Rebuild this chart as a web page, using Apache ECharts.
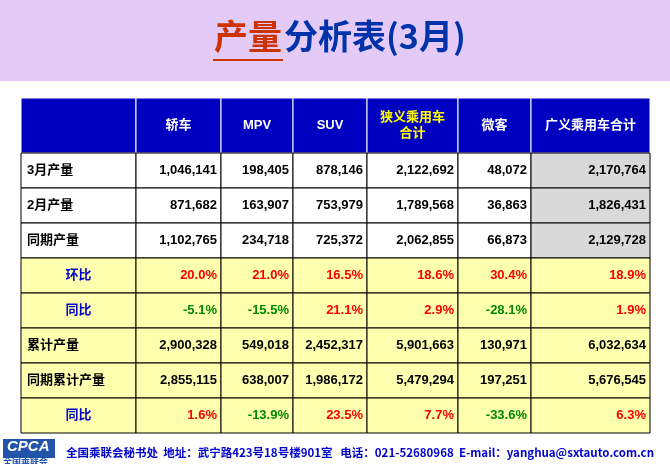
<!DOCTYPE html>
<html><head><meta charset="utf-8">
<script src="https://cdn.jsdelivr.net/npm/echarts@6/dist/echarts.min.js"></script>
<style>html,body{margin:0;padding:0;background:#fff}#main{width:670px;height:464px}</style>
</head><body><div id="main"></div>
<script>
var columns = ['', '轿车', 'MPV', 'SUV', '狭义乘用车\n合计', '微客', '广义乘用车合计'];
var rowNames = ['3月产量', '2月产量', '同期产量', '环比', '同比', '累计产量', '同期累计产量', '同比'];
var rowValues = [
  ['1,046,141', '198,405', '878,146', '2,122,692', '48,072', '2,170,764'],
  ['871,682', '163,907', '753,979', '1,789,568', '36,863', '1,826,431'],
  ['1,102,765', '234,718', '725,372', '2,062,855', '66,873', '2,129,728'],
  ['20.0%', '21.0%', '16.5%', '18.6%', '30.4%', '18.9%'],
  ['-5.1%', '-15.5%', '21.1%', '2.9%', '-28.1%', '1.9%'],
  ['2,900,328', '549,018', '2,452,317', '5,901,663', '130,971', '6,032,634'],
  ['2,855,115', '638,007', '1,986,172', '5,479,294', '197,251', '5,676,545'],
  ['1.6%', '-13.9%', '23.5%', '7.7%', '-33.6%', '6.3%']
];
var pctRows = [3, 4, 7];

// column edges in table units (pixels from table left)
var colEdges = [0, 115, 200, 272, 346, 437, 510, 629];

var cells = [];
columns.forEach(function (c, ci) { cells.push([ci, 0, c]); });
rowNames.forEach(function (n, ri) {
  cells.push([0, ri + 1, n]);
  rowValues[ri].forEach(function (v, ci) { cells.push([ci + 1, ri + 1, v]); });
});

var chart = echarts.init(document.getElementById('main'));
var font = '"Liberation Sans", "Noto Sans CJK SC", sans-serif';

function renderItem(params, api) {
  var ci = api.value(0), ri = api.value(1), txt = cells[params.dataIndex][2];
  var p0 = api.coord([colEdges[ci], ri]);
  var p1 = api.coord([colEdges[ci + 1], ri]);
  var h = ri === 0 ? 55 : 35;
  var top = ri === 0 ? 98 : 153 + (ri - 1) * 35;
  var x0 = p0[0], x1 = p1[0];
  var fill = '#fff', color = '#000', align = 'right', tx = x1 - 4;
  if (ri === 0) { fill = '#0000c0'; color = ci === 4 ? '#ffff00' : '#fff'; align = 'center'; tx = (x0 + x1) / 2; }
  else if (ri >= 4) fill = '#ffffb0';
  else if (ci === 6) fill = '#d9d9d9';
  var r = ri - 1;
  if (ri > 0 && ci === 0) {
    if (pctRows.indexOf(r) >= 0) { color = '#0000cc'; align = 'center'; tx = (x0 + x1) / 2; }
    else { align = 'left'; tx = x0 + 6; }
  } else if (ri > 0 && pctRows.indexOf(r) >= 0) {
    color = txt.charAt(0) === '-' ? '#008800' : '#ff0000';
  }
  return {
    type: 'group',
    children: [
      { type: 'rect', shape: { x: x0, y: top, width: x1 - x0, height: h },
        style: { fill: fill, stroke: ri === 0 ? '#ffffff' : '#000', lineWidth: 1 } },
      { type: 'text', style: { x: tx, y: top + h / 2, text: txt, fill: color, align: align,
        verticalAlign: 'middle', font: 'bold 13px ' + font, lineHeight: 16 } }
    ]
  };
}

chart.setOption({
  backgroundColor: '#fff',
  graphic: [
    { type: 'rect', shape: { x: 0, y: 0, width: 670, height: 81 }, style: { fill: '#e4cbf7' } },
    { type: 'text', left: 214, top: 19, style: { text: '产量', font: 'bold 34px "Noto Sans CJK SC"', fill: '#cc3300',
      shadowColor: 'rgba(0,0,0,0.5)', shadowOffsetX: 2, shadowOffsetY: 2, shadowBlur: 1 } },
    { type: 'rect', shape: { x: 213, y: 59, width: 70, height: 2 }, style: { fill: '#cc3300' } },
    { type: 'text', left: 284, top: 19, style: { text: '分析表(3月)', font: 'bold 34px "Noto Sans CJK SC"', fill: '#0033aa',
      shadowColor: 'rgba(0,0,0,0.5)', shadowOffsetX: 2, shadowOffsetY: 2, shadowBlur: 1 } },
    { type: 'rect', shape: { x: 3, y: 439, width: 52, height: 19 }, style: { fill: '#2255aa' } },
    { type: 'text', left: 7, top: 439, style: { text: 'CPCA', font: 'italic bold 15px "Liberation Sans"', fill: '#fff' } },
    { type: 'text', left: 3, top: 457, style: { text: '全国乘联会', font: 'bold 9px "Noto Sans CJK SC"', fill: '#2255aa' } },
    { type: 'text', left: 66, top: 447, style: { text: '全国乘联会秘书处  地址：武宁路423号18号楼901室   电话：021-52680968  E-mail：yanghua@sxtauto.com.cn',
      font: 'bold 11.5px "Noto Sans CJK SC"', fill: '#0000cc' } }
  ],
  grid: { left: 21, right: 20, top: 98, bottom: 31 },
  xAxis: { type: 'value', min: 0, max: 629, show: false },
  yAxis: { type: 'value', min: 0, max: 9, show: false },
  series: [{
    type: 'custom',
    renderItem: renderItem,
    data: cells.map(function (c) { return [c[0], c[1]]; }),
    animation: false
  }]
});
</script></body></html>
